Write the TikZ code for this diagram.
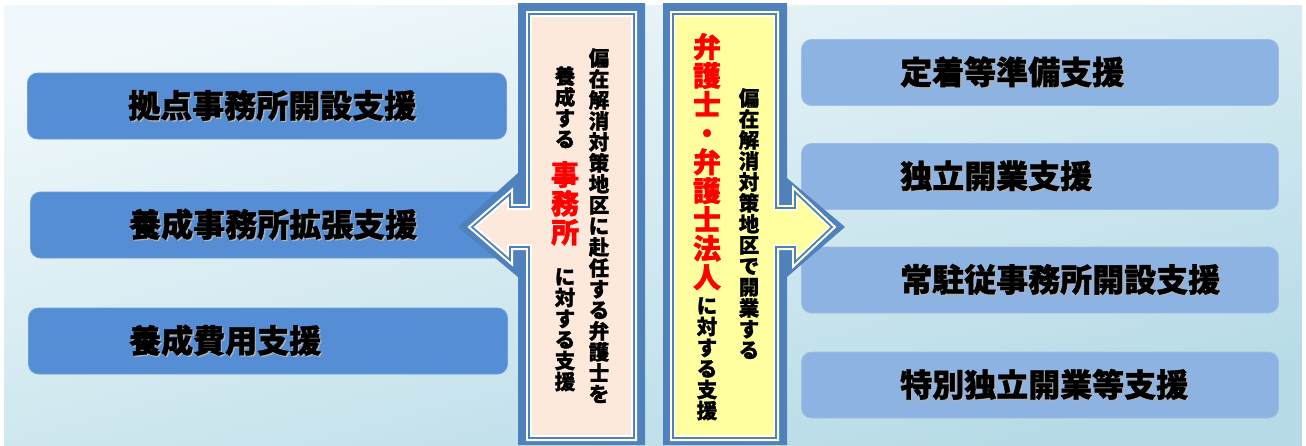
\documentclass[tikz,border=0pt]{standalone}
\usepackage{fontspec}
\newfontfamily\jp[BoldFeatures={FakeBold=1.2}]{Noto Sans CJK JP}
\definecolor{bgA}{HTML}{F0F8FB}
\definecolor{bgB}{HTML}{B6DBE6}
\definecolor{lblue}{HTML}{558ED5}
\definecolor{rblue}{HTML}{8DB3E2}
\definecolor{pblue}{HTML}{4F81BD}
\definecolor{pinkf}{HTML}{FDE9DC}
\definecolor{yelf}{HTML}{FFFF9F}
\definecolor{redt}{HTML}{FF0000}
\newcommand\shd[1]{\rlap{\textcolor{black!30}{\kern1.3pt\raisebox{-1.3pt}{#1}}}#1}
\begin{document}
\begin{tikzpicture}[x=1pt,y=-1pt,
  lbox/.style={rounded corners=10pt, fill=lblue, draw=lblue!85!white, line width=0.8pt, minimum width=479pt, minimum height=66pt, inner sep=0},
  rbox/.style={rounded corners=10pt, fill=rblue, draw=rblue!85!white, line width=0.8pt, minimum width=477pt, minimum height=66pt, inner sep=0},
  lab/.style={anchor=west, inner sep=0, font=\jp\bfseries\fontsize{32pt}{32pt}\selectfont},
  vt/.style={anchor=north, align=center, inner sep=0},
  small/.style={font=\jp\bfseries\fontsize{20.5pt}{21pt}\selectfont},
  big/.style={font=\jp\bfseries\fontsize{28pt}{28.8pt}\selectfont, text=redt}]
\useasboundingbox (0,0) rectangle (1306,445);
\shade[top color=bgA, bottom color=bgB, shading angle=15] (4,5) rectangle (1302,445);
% left boxes
\node[lbox] (L1) at (267,106) {};
\node[lbox] (L2) at (270,225) {};
\node[lbox] (L3) at (268,341) {};
\node[lab] (L1t) at (128,106) {\shd{拠点事務所開設支援}};
\node[lab] (L2t) at (129,225) {\shd{養成事務所拡張支援}};
\node[lab] (L3t) at (129,341) {\shd{養成費用支援}};
% right boxes
\node[rbox] (R1) at (1040,72.5) {};
\node[rbox] (R2) at (1040,176.5) {};
\node[rbox] (R3) at (1040,280) {};
\node[rbox] (R4) at (1040,385) {};
\node[lab] (R1t) at (900,72.5) {\shd{定着等準備支援}};
\node[lab] (R2t) at (900,176.5) {\shd{独立開業支援}};
\node[lab] (R3t) at (900,280) {\shd{常駐従事務所開設支援}};
\node[lab] (R4t) at (900,385) {\shd{特別独立開業等支援}};
% left panel
\fill[pblue] (518,3) -- (645,3) -- (645,445) -- (518,445) -- (518,277) -- (458,227) -- (518,173) -- cycle;
\draw[pblue, line width=1.8pt, line join=miter, preaction={fill=pinkf, draw=white, line width=6pt}]
  (634,14) -- (529,14) -- (529,207) -- (510,207) -- (510,194) -- (472,227) -- (510,260) -- (510,247) -- (529,247) -- (529,438) -- (634,438) -- cycle;
% right panel
\fill[pblue] (663,3) -- (787,3) -- (787,178) -- (845,227) -- (787,277) -- (787,445) -- (663,445) -- cycle;
\draw[pblue, line width=1.8pt, line join=miter, preaction={fill=yelf, draw=yelf!40!white, line width=6pt}]
  (673,14) -- (776,14) -- (776,208) -- (795,208) -- (795,192) -- (832,227) -- (795,262) -- (795,247) -- (776,247) -- (776,438) -- (673,438) -- cycle;
% left panel text
\node[vt, small] (P1) at (599,48) {偏\\在\\解\\消\\対\\策\\地\\区\\に\\赴\\任\\す\\る\\弁\\護\\士\\を};
\node[vt, small] (P2) at (565,66) {養\\成\\す\\る};
\node[vt, big] (P3) at (565,161) {事\\務\\所};
\node[vt, small] (P4) at (565,268) {に\\対\\す\\る\\支\\援};
% right panel text
\node[vt, big] (Q1) at (707,33) {弁\\護\\士\\・\\弁\\護\\士\\法\\人};
\node[vt, small] (Q2) at (707,297) {に\\対\\す\\る\\支\\援};
\node[vt, small] (Q3) at (749,88) {偏\\在\\解\\消\\対\\策\\地\\区\\で\\開\\業\\す\\る};
\end{tikzpicture}
\end{document}
